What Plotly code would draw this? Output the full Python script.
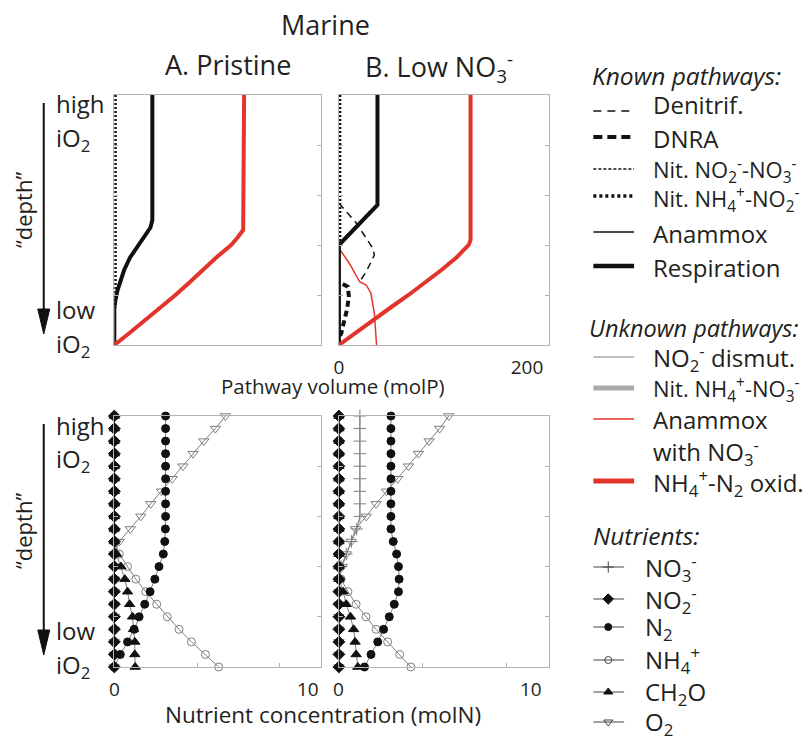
import plotly.graph_objects as go

W, H = 811, 744
FONT = "Open Sans"
TXT = "#231f20"
RED = "#e3342b"
GRAY = "#7f7f7f"
LGRAY = "#aaaaaa"
FRAME = "#b3b3b3"

# ---------------- data ----------------
# Top panels: pathway volume (molP) vs relative depth (0 = high iO2, 1 = low iO2)
respA_depth = [0.00, 0.50, 0.53, 0.57, 0.61, 0.65, 0.70, 0.75, 0.78, 0.82, 0.85, 1.00]
respA_vol = [41, 41, 39, 32, 25, 17, 10.6, 5.5, 3.5, 1.2, 0, 0]
oxidA_depth = [0.00, 0.52, 0.54, 0.57, 0.60, 0.65, 0.70, 0.75, 0.80, 0.85, 0.90, 0.95, 1.00]
oxidA_vol = [140, 140, 139, 133, 126, 110, 96, 81, 66, 50, 34, 17, 0]
nitA_depth = [0.00, 0.85]
nitA_vol = [1, 1]

respB_depth = [0.00, 0.44, 0.60, 1.00]
respB_vol = [41, 41, 0, 0]
oxidB_depth = [0.00, 0.58, 0.60, 0.65, 0.70, 0.75, 0.80, 0.85, 0.90, 0.95, 1.00]
oxidB_vol = [140, 140, 138, 125, 109, 92, 74, 55, 37, 18, 0]
denitB_depth = [0.433, 0.51, 0.613, 0.64, 0.707, 0.747]
denitB_vol = [0, 18, 36, 37.7, 29, 22]
anamNO3B_depth = [0.613, 0.673, 0.747, 0.76, 0.793, 0.873, 1.00]
anamNO3B_vol = [0, 11, 22, 29, 34, 37.7, 40]
dnraB_depth = [0.756, 0.767, 0.807, 0.86, 0.913, 0.953, 0.973]
dnraB_vol = [4, 9.5, 10.6, 8.5, 5, 2.5, 0]
nitB_depth = [0.00, 0.60]
nitB_vol = [1, 1]

# Bottom panels: nutrient concentration (molN) at 21 depth levels
depth = [0.00, 0.05, 0.10, 0.15, 0.20, 0.25, 0.30, 0.35, 0.40, 0.45, 0.50,
         0.55, 0.60, 0.65, 0.70, 0.75, 0.80, 0.85, 0.90, 0.95, 1.00]

NO3_A = [0, 0, 0, 0, 0, 0, 0, 0, 0, 0, 0, 0, 0, 0, 0, 0, 0, 0, 0, 0, 0]
NO2_A = [0, 0, 0, 0, 0, 0, 0, 0, 0, 0, 0, 0, 0, 0, 0, 0, 0, 0, 0, 0, 0]
N2_A = [2.48, 2.48, 2.48, 2.48, 2.48, 2.48, 2.48, 2.48, 2.48, 2.47, 2.44,
        2.37, 2.16, 1.96, 1.73, 1.47, 1.20, 0.96, 0.64, 0.29, 0.00]
NH4_A = [0, 0, 0, 0, 0, 0, 0, 0, 0, 0, 0,
         0.24, 0.64, 1.04, 1.52, 2.05, 2.56, 3.13, 3.73, 4.41, 5.05]
CH2O_A = [0, 0, 0, 0, 0, 0, 0, 0, 0, 0, 0,
          0.10, 0.32, 0.51, 0.64, 0.74, 0.88, 0.93, 0.99, 0.99, 1.01]
O2_A = [5.37, 4.89, 4.33, 3.81, 3.32, 2.80, 2.28, 1.76, 1.28, 0.77, 0.24,
        0, 0, 0, 0, 0, 0, 0, 0, 0, 0]

NO3_B = [1.0, 1.0, 1.0, 1.0, 1.0, 1.0, 1.0, 1.0, 1.0, 0.85, 0.60,
         0.35, 0.10, 0, 0, 0, 0, 0, 0, 0, 0]
NO2_B = [0, 0, 0, 0, 0, 0, 0, 0, 0, 0, 0, 0, 0, 0, 0, 0, 0, 0, 0, 0, 0]
N2_B = [2.48, 2.48, 2.48, 2.48, 2.48, 2.48, 2.48, 2.48, 2.48, 2.48, 2.59,
        2.75, 2.84, 2.87, 2.84, 2.64, 2.40, 2.13, 1.85, 1.53, 1.22]
NH4_B = [0, 0, 0, 0, 0, 0, 0, 0, 0, 0, 0, 0, 0,
         0.10, 0.43, 0.82, 1.29, 1.77, 2.32, 2.90, 3.43]
CH2O_B = [0, 0, 0, 0, 0, 0, 0, 0, 0, 0, 0, 0, 0, 0,
          0.20, 0.35, 0.55, 0.70, 0.77, 0.82, 0.90]
O2_B = [5.24, 4.80, 4.30, 3.79, 3.32, 2.80, 2.27, 1.77, 1.30, 0.80, 0.58,
        0.35, 0.16, 0, 0, 0, 0, 0, 0, 0, 0]

top_xticks = [0, 200]
bottom_xlabels = ["0", "10"]

# ---------------- figure ----------------
def px(x):
    return x / W


def py(y):
    return 1 - y / H


fig = go.Figure()

def line_trace(x, y, xa, ya, color, width, dash="solid"):
    fig.add_trace(go.Scatter(x=x, y=y, xaxis=xa, yaxis=ya, mode="lines",
                             line=dict(color=color, width=width, dash=dash),
                             showlegend=False, hoverinfo="skip"))

# top A
line_trace(nitA_vol, nitA_depth, "x", "y", "#111", 3, "2px,2px")
line_trace(respA_vol, respA_depth, "x", "y", "#111", 4)
line_trace(oxidA_vol, oxidA_depth, "x", "y", RED, 4)
# top B
line_trace(nitB_vol, nitB_depth, "x2", "y2", "#111", 3, "2px,2px")
line_trace(denitB_vol, denitB_depth, "x2", "y2", "#111", 1.5, "7px,5px")
line_trace(anamNO3B_vol, anamNO3B_depth, "x2", "y2", RED, 1.5)
line_trace(dnraB_vol, dnraB_depth, "x2", "y2", "#111", 4, "6px,4px")
line_trace(respB_vol, respB_depth, "x2", "y2", "#111", 4)
line_trace(oxidB_vol, oxidB_depth, "x2", "y2", RED, 4)

# nutrient styles
NUT = {
    "O2": dict(symbol="triangle-down-open", color=GRAY, size=9),
    "NH4": dict(symbol="circle-open", color=GRAY, size=8),
    "NO3": dict(symbol="cross-thin", color=GRAY, size=9),
    "CH2O": dict(symbol="triangle-up", color="#111", size=9),
    "N2": dict(symbol="circle", color="#111", size=8),
    "NO2": dict(symbol="diamond", color="#111", size=9),
}

def nut_trace(vals, key, xa, ya):
    m = NUT[key]
    fig.add_trace(go.Scatter(
        x=vals, y=depth, xaxis=xa, yaxis=ya, mode="lines+markers",
        line=dict(color=GRAY, width=1),
        marker=dict(symbol=m["symbol"], size=m["size"], color=m["color"],
                    line=dict(color=m["color"], width=1)),
        cliponaxis=False, showlegend=False, hoverinfo="skip"))

for xa, ya, vals in [("x3", "y3", dict(O2=O2_A, NH4=NH4_A, NO3=NO3_A, CH2O=CH2O_A, N2=N2_A, NO2=NO2_A)),
                     ("x4", "y4", dict(O2=O2_B, NH4=NH4_B, NO3=NO3_B, CH2O=CH2O_B, N2=N2_B, NO2=NO2_B))]:
    for key in ["O2", "NH4", "NO3", "CH2O", "N2", "NO2"]:
        nut_trace(vals[key], key, xa, ya)

# ---------------- legend samples (overlay axis in pixel units) ----------------
legend_lines = [
    # y, color, width, dash
    (111, "#111", 1.5, "8px,6px"),
    (137, "#111", 4, "9px,5px"),
    (169, "#111", 1.5, "3px,2px"),
    (196, "#111", 3.5, "3px,3px"),
    (232, "#111", 1.5, "solid"),
    (266, "#111", 4.5, "solid"),
    (357, LGRAY, 1.5, "solid"),
    (388, LGRAY, 5, "solid"),
    (419, RED, 1.5, "solid"),
    (481, RED, 5, "solid"),
]
for yy, c, w, d in legend_lines:
    line_trace([592, 633], [yy, yy], "x5", "y5", c, w, d)

LEG_DARK = "#444444"
legend_nut = [(567, "NO3"), (599, "NO2"), (627, "N2"), (660, "NH4"), (692, "CH2O"), (722, "O2")]
for yy, key in legend_nut:
    m = NUT[key]
    mc = m["color"] if m["color"] != GRAY else LEG_DARK
    fig.add_trace(go.Scatter(
        x=[592, 623], y=[yy, yy], xaxis="x5", yaxis="y5", mode="lines",
        line=dict(color=LEG_DARK, width=1), showlegend=False, hoverinfo="skip"))
    fig.add_trace(go.Scatter(
        x=[607], y=[yy], xaxis="x5", yaxis="y5", mode="markers",
        marker=dict(symbol=m["symbol"], size=m["size"] - 1, color=mc,
                    line=dict(color=mc, width=1)),
        showlegend=False, hoverinfo="skip"))

# ---------------- axes ----------------
yT = [py(345), py(95)]
yBt = [py(667), py(416)]
xA = [px(110), px(318)]
xB = [px(336), px(547)]

def yax(domain, anchor):
    return dict(domain=domain, anchor=anchor, range=[1, 0], showline=True, linecolor=FRAME,
                linewidth=1, mirror="ticks", ticks="inside", ticklen=4, tickcolor=FRAME,
                tickvals=[0.2, 0.4, 0.6, 0.8], showticklabels=False, showgrid=False,
                zeroline=False, fixedrange=True)

def xax(domain, anchor, rng, **kw):
    d = dict(domain=domain, anchor=anchor, range=rng, showline=True, linecolor=FRAME,
             linewidth=1, mirror=True, showgrid=False, zeroline=False, fixedrange=True)
    d.update(kw)
    return d

fig.update_layout(
    width=W, height=H, margin=dict(l=0, r=0, t=0, b=0),
    paper_bgcolor="white", plot_bgcolor="rgba(0,0,0,0)",
    font=dict(family=FONT, color=TXT),
    showlegend=False,
    xaxis=xax(xA, "y", [0, 223], ticks="", showticklabels=False),
    yaxis=yax(yT, "x"),
    xaxis2=xax(xB, "y2", [0, 223], ticks="", tickvals=top_xticks,
               tickfont=dict(size=19, color=TXT, family=FONT), ticklabelstandoff=5),
    yaxis2=yax(yT, "x2"),
    xaxis3=xax(xA, "y3", [0, 10], ticks="inside", ticklen=4, tickcolor=FRAME,
               tickvals=[4, 8], showticklabels=False),
    yaxis3=yax(yBt, "x3"),
    xaxis4=xax(xB, "y4", [0, 10], ticks="inside", ticklen=4, tickcolor=FRAME,
               tickvals=[4, 8], showticklabels=False),
    yaxis4=yax(yBt, "x4"),
    xaxis5=dict(domain=[0, 1], anchor="y5", range=[0, W], visible=False, fixedrange=True),
    yaxis5=dict(domain=[0, 1], anchor="x5", range=[H, 0], visible=False, fixedrange=True),
)

# ---------------- text ----------------
anns = []

def ann(text, x, y, size, xanchor="left", yanchor="middle", angle=0):
    anns.append(dict(text=text, x=px(x), y=py(y), xref="paper", yref="paper",
                     showarrow=False, xanchor=xanchor, yanchor=yanchor, textangle=angle,
                     font=dict(family=FONT, size=size, color=TXT)))

ann("Marine", 322, 25, 27, "center")
ann("A. Pristine", 224, 64, 27, "center")
ann("B. Low NO<sub>3</sub><sup>-</sup>", 360, 67, 27, "left")

ann("Pathway volume (molP)", 330, 386, 20.5, "center")
ann("Nutrient concentration (molN)", 320, 714, 22.5, "center")

# bottom tick labels
for x0, x1 in [(110, 318), (336, 542)]:
    ann(bottom_xlabels[0], x0, 689, 19, "center")
    ann(bottom_xlabels[1], x1, 689, 19, "right")

# left side labels
for off in [0, 321]:
    ann("high", 49, 104 + off, 24)
    ann("iO<sub>2</sub>", 49, 139 + off, 24)
    ann("low", 49, 309 + off, 24)
    ann("iO<sub>2</sub>", 49, 345 + off, 24)
    ann("\u201cdepth\u201d", 18, 210 + off, 22, "center", "middle", -90)

# legend text
LS = 24
SMALL = 22
ann("<i>Known pathways:</i>", 589, 75, 24.5)
known = [(105, "Denitrif.", LS), (138, "DNRA", LS),
         (170, "Nit. NO<sub>2</sub><sup>-</sup>-NO<sub>3</sub><sup>-</sup>", SMALL),
         (199, "Nit. NH<sub>4</sub><sup>+</sup>-NO<sub>2</sub><sup>-</sup>", SMALL),
         (234, "Anammox", LS), (267, "Respiration", LS)]
for yy, t, s in known:
    ann(t, 650, yy, s)

ann("<i>Unknown pathways:</i>", 586, 328, 23.5)
unknown = [(358, "NO<sub>2</sub><sup>-</sup> dismut.", LS),
           (389, "Nit. NH<sub>4</sub><sup>+</sup>-NO<sub>3</sub><sup>-</sup>", SMALL),
           (419, "Anammox", LS), (452, "with NO<sub>3</sub><sup>-</sup>", LS),
           (483, "NH<sub>4</sub><sup>+</sup>-N<sub>2</sub> oxid.", LS)]
for yy, t, s in unknown:
    ann(t, 650, yy, s)

ann("<i>Nutrients:</i>", 590, 535, 24.5)
nut_labels = [(568, "NO<sub>3</sub><sup>-</sup>"), (600, "NO<sub>2</sub><sup>-</sup>"),
              (628, "N<sub>2</sub>"), (660, "NH<sub>4</sub><sup>+</sup>"),
              (693, "CH<sub>2</sub>O"), (723, "O<sub>2</sub>")]
for yy, t in nut_labels:
    ann(t, 642, yy, LS)

fig.update_layout(annotations=anns)

# depth arrows
shapes = []
for off in [0, 321]:
    shapes.append(dict(type="line", xref="paper", yref="paper",
                       x0=px(39), x1=px(39), y0=py(103 + off), y1=py(315 + off),
                       line=dict(color="#111", width=2)))
    shapes.append(dict(type="path", xref="paper", yref="paper",
                       path=f"M {px(33)},{py(309 + off)} L {px(45)},{py(309 + off)} L {px(39)},{py(334 + off)} Z",
                       fillcolor="#111", line=dict(color="#111", width=1)))
fig.update_layout(shapes=shapes)

fig.write_html("out.html", config={"displayModeBar": False},
               post_script="document.body.style.margin='0';document.body.style.padding='0';")
